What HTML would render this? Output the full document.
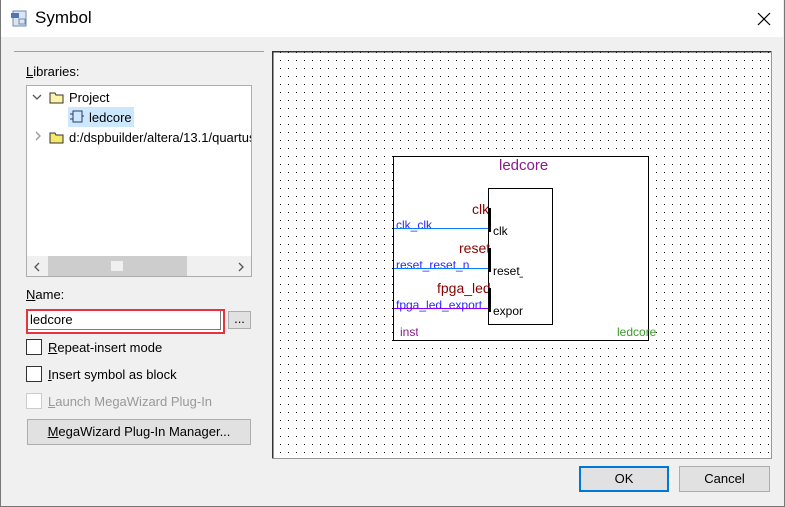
<!DOCTYPE html>
<html><head><style>
*{margin:0;padding:0;box-sizing:border-box}
body{width:785px;height:507px;overflow:hidden;background:#f0f0f0;font-family:"Liberation Sans",sans-serif;font-size:13px;color:#000;position:relative}
.a{position:absolute}
.win{left:0;top:0;width:785px;height:507px;border:1px solid #777;border-top:none}
.tb{left:1px;top:0;width:782px;height:37px;background:#fff}
.btn{background:#e1e1e1;border:1px solid #adadad;text-align:center}
.cb{width:16px;height:16px;border:1px solid #333;background:#fff}
</style></head><body>
<div class="a win"></div>
<div class="a tb"></div>
<svg class="a" style="left:10px;top:9px" width="18" height="18"><rect x="3" y="2" width="13" height="15" fill="#dde6f0" stroke="#6a8ab0"/><rect x="1" y="4" width="8" height="5" fill="#4a78b8"/><rect x="9" y="10" width="6" height="5" fill="none" stroke="#6a8ab0"/></svg>
<div class="a" style="left:35px;top:8px;font-size:17px">Symbol</div>
<svg class="a" style="left:757px;top:12px" width="14" height="14"><path d="M1 1L13 13M13 1L1 13" stroke="#000" stroke-width="1.2"/></svg>
<div class="a" style="left:14px;top:51px;width:250px;height:1px;background:#a0a0a0"></div>
<div class="a" style="left:26px;top:64px"><u>L</u>ibraries:</div>
<div class="a" style="left:26px;top:85px;width:226px;height:192px;background:#fff;border:1px solid #adadad"></div>
<svg class="a" style="left:32px;top:93px" width="10" height="8"><path d="M1 2l4 4 4-4" stroke="#555" fill="none" stroke-width="1.3"/></svg>
<svg class="a" style="left:49px;top:91px" width="16" height="13"><path d="M1 2h5l1 2h7v8H1z" fill="#fff3a8" stroke="#333"/></svg>
<div class="a" style="left:69px;top:90px">Project</div>
<div class="a" style="left:68px;top:107px;width:66px;height:20px;background:#cce8ff"></div>
<svg class="a" style="left:70px;top:110px" width="14" height="14"><rect x="3" y="1" width="9" height="11" fill="none" stroke="#336"/><path d="M0 4h3M0 9h3M12 6h2" stroke="#336"/></svg>
<div class="a" style="left:89px;top:110px">ledcore</div>
<svg class="a" style="left:34px;top:131px" width="8" height="10"><path d="M2 1l4 4-4 4" stroke="#999" fill="none" stroke-width="1.3"/></svg>
<svg class="a" style="left:49px;top:131px" width="16" height="13"><path d="M1 2h5l1 2h7v8H1z" fill="#f5e86a" stroke="#333"/></svg>
<div class="a" style="left:69px;top:130px;width:182px;overflow:hidden;white-space:nowrap">d:/dspbuilder/altera/13.1/quartus</div>
<div class="a" style="left:27px;top:256px;width:224px;height:20px;background:#f0f0f0"></div>
<div class="a" style="left:48px;top:256px;width:139px;height:20px;background:#cdcdcd"></div>
<div class="a" style="left:111px;top:261px;width:12px;height:10px;background:#f0f0f0"></div>
<svg class="a" style="left:33px;top:262px" width="8" height="10"><path d="M6 1L2 5l4 4" stroke="#555" fill="none" stroke-width="1.3"/></svg>
<svg class="a" style="left:237px;top:262px" width="8" height="10"><path d="M2 1l4 4-4 4" stroke="#555" fill="none" stroke-width="1.3"/></svg>
<div class="a" style="left:26px;top:287px"><u>N</u>ame:</div>
<div class="a" style="left:26px;top:309px;width:199px;height:25px;border:2px solid #e8333a;background:#fff"></div>
<div class="a" style="left:28px;top:311px;width:193px;height:19px;border:1px solid #7a7a7a;border-top:none;border-left:none"></div>
<div class="a" style="left:30px;top:312px">ledcore</div>
<div class="a btn" style="left:228px;top:311px;width:23px;height:18px;line-height:14px">...</div>
<div class="a cb" style="left:26px;top:339px"></div>
<div class="a" style="left:48px;top:340px"><u>R</u>epeat-insert mode</div>
<div class="a cb" style="left:26px;top:366px"></div>
<div class="a" style="left:48px;top:367px"><u>I</u>nsert symbol as block</div>
<div class="a cb" style="left:26px;top:393px;border-color:#ccc"></div>
<div class="a" style="left:48px;top:394px;color:#999"><u>L</u>aunch MegaWizard Plug-In</div>
<div class="a btn" style="left:27px;top:419px;width:224px;height:26px;line-height:24px"><u>M</u>egaWizard Plug-In Manager...</div>
<svg class="a" style="left:272px;top:51px" width="500" height="408">
<defs><pattern id="d" x="8" y="9" width="8" height="8" patternUnits="userSpaceOnUse"><rect width="1" height="1" fill="#000"/></pattern></defs>
<rect width="500" height="408" fill="#fff"/>
<rect width="500" height="408" fill="url(#d)"/>
<path d="M0.5 407V0.5H499" stroke="#333" stroke-width="2" fill="none"/>
<path d="M499.5 0V407.5H0" stroke="#999" fill="none"/>
<rect x="121.5" y="105.5" width="255" height="184" fill="#fff" stroke="#000"/>
<rect x="216.5" y="137.5" width="64" height="136" fill="#fff" stroke="#000"/>
<g font-family="Liberation Sans,sans-serif">
<text x="227" y="119" font-size="15" fill="#8b1a8b">ledcore</text>
<rect x="276" y="106" width="10" height="18" fill="#fff"/>
<text x="200" y="163" font-size="14" fill="#8b0000">clk</text>
<text x="187" y="202" font-size="14" fill="#8b0000">reset</text>
<text x="165" y="242" font-size="14" fill="#8b0000">fpga_led</text>
<rect x="219" y="140" width="20" height="125" fill="#fff"/>
<rect x="216" y="157" width="3" height="24" fill="#000"/>
<rect x="216" y="197" width="3" height="24" fill="#000"/>
<rect x="216" y="237" width="3" height="24" fill="#000"/>
<text x="124" y="178" font-size="12" fill="#2a2aff">clk_clk</text>
<text x="124" y="218" font-size="12" fill="#2a2aff">reset_reset_n</text>
<text x="124" y="258" font-size="12" fill="#2a2aff">fpga_led_export</text>
<line x1="122" y1="177.5" x2="216" y2="177.5" stroke="#0a7aff"/>
<line x1="122" y1="217.5" x2="216" y2="217.5" stroke="#0a7aff"/>
<line x1="122" y1="257.5" x2="216" y2="257.5" stroke="#8a00ff"/>
<text x="221" y="184" font-size="12">clk</text>
<text x="221" y="224" font-size="12">reset_n</text>
<text x="221" y="264" font-size="12">export</text>
<rect x="251" y="205" width="29" height="68" fill="#fff"/>
<text x="128" y="285" font-size="12" fill="#8b1a8b">inst</text>
<rect x="146" y="274" width="10" height="14" fill="#fff"/>
<text x="345" y="285" font-size="12" fill="#3a9a2a">ledcore</text>
</g>
</svg>
<div class="a btn" style="left:579px;top:466px;width:90px;height:26px;line-height:22px;border:2px solid #0078d7">OK</div>
<div class="a btn" style="left:679px;top:466px;width:91px;height:26px;line-height:24px">Cancel</div>
</body></html>
